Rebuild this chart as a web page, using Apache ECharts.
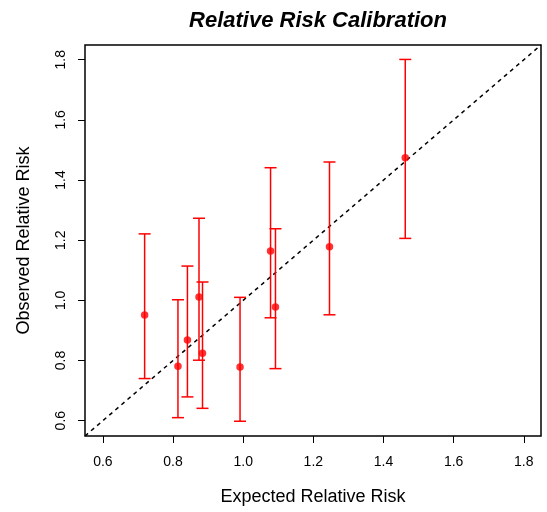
<!DOCTYPE html>
<html>
<head>
    <meta charset="utf-8">
    <title>Relative Risk Calibration</title>
    <script src="https://cdn.jsdelivr.net/npm/echarts@6/dist/echarts.min.js"></script>
</head>
<body style="margin:0;background:#fff;">
    <div id="main" style="width:547px;height:512px;"></div>
    <script type="text/javascript">
        // values
        var expected = [0.719, 0.814, 0.841, 0.874, 0.884, 0.991, 1.078, 1.092, 1.246, 1.462];
        var observed = [0.951, 0.781, 0.868, 1.011, 0.824, 0.778, 1.164, 0.978, 1.178, 1.474];
        var lower    = [0.740, 0.610, 0.679, 0.801, 0.641, 0.598, 0.942, 0.773, 0.952, 1.206];
        var upper    = [1.221, 1.002, 1.114, 1.273, 1.061, 1.010, 1.441, 1.238, 1.460, 1.801];
        var tickValues = [0.6, 0.8, 1.0, 1.2, 1.4, 1.6, 1.8];
        var axisMin = 0.549, axisMax = 1.849;

        var font = 'Liberation Sans, Arial, Helvetica, sans-serif';

        var points = [], bars = [];
        for (var i = 0; i < expected.length; i++) {
            points.push([expected[i], observed[i]]);
            bars.push([expected[i], lower[i], upper[i]]);
        }
        // identity line y = x across the plot
        var diag = [[axisMin, axisMin], [axisMax, axisMax]];

        var myChart = echarts.init(document.getElementById('main'));

        function axisOpt(name, isY) {
            return {
                type: 'value',
                min: axisMin,
                max: axisMax,
                name: name,
                nameLocation: 'middle',
                nameGap: 52,
                nameTextStyle: { fontFamily: font, fontSize: 18, color: '#000' },
                axisLine: { show: false },
                axisTick: { show: true, length: 7, inside: false, customValues: tickValues,
                    lineStyle: { color: '#000', width: 1 } },
                axisLabel: { customValues: tickValues, margin: isY ? 17 : 19, rotate: isY ? 90 : 0,
                    fontFamily: font, fontSize: 14, color: '#000',
                    formatter: function (v) { return v.toFixed(1); } },
                splitLine: { show: false }
            };
        }

        var option = {
            animation: false,
            title: {
                text: 'Relative Risk Calibration',
                left: 313,
                textAlign: 'center',
                top: 5,
                textStyle: { fontFamily: font, fontSize: 22, fontWeight: 'bold', fontStyle: 'italic', color: '#000' }
            },
            grid: {
                left: 85, right: 6, top: 45, bottom: 76,
                containLabel: false,
                outerBoundsMode: 'none',
                show: true,
                borderColor: '#000',
                borderWidth: 1.5,
                backgroundColor: '#fff'
            },
            xAxis: axisOpt('Expected Relative Risk', false),
            yAxis: axisOpt('Observed Relative Risk', true),
            series: [
                {
                    type: 'line',
                    data: diag,
                    symbol: 'none',
                    lineStyle: { color: '#000', width: 1.5, type: [4, 4] },
                    z: 1
                },
                {
                    type: 'custom',
                    data: bars,
                    encode: { x: 0, y: [1, 2] },
                    renderItem: function (params, api) {
                        var x = api.value(0);
                        var pLo = api.coord([x, api.value(1)]);
                        var pHi = api.coord([x, api.value(2)]);
                        var hw = 6;
                        var st = { stroke: '#ff0000', lineWidth: 1.5 };
                        return {
                            type: 'group',
                            children: [
                                { type: 'line', shape: { x1: pLo[0], y1: pLo[1], x2: pHi[0], y2: pHi[1] }, style: st },
                                { type: 'line', shape: { x1: pLo[0] - hw, y1: pLo[1], x2: pLo[0] + hw, y2: pLo[1] }, style: st },
                                { type: 'line', shape: { x1: pHi[0] - hw, y1: pHi[1], x2: pHi[0] + hw, y2: pHi[1] }, style: st }
                            ]
                        };
                    },
                    z: 2
                },
                {
                    type: 'scatter',
                    data: points,
                    symbol: 'circle',
                    symbolSize: 7.5,
                    itemStyle: { color: '#ff0000' },
                    z: 3
                }
            ]
        };
        myChart.setOption(option);
    </script>
</body>
</html>
